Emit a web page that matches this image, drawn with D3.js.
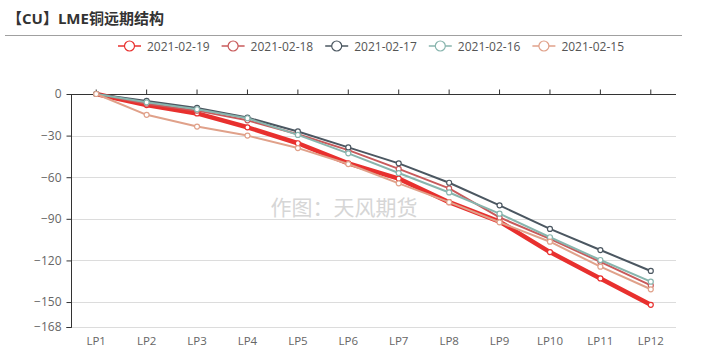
<!DOCTYPE html>
<html>
<head>
<meta charset="utf-8">
<script src="https://cdn.jsdelivr.net/npm/d3@7"></script>
<style>
  body { margin: 0; background: #fff; }
  svg text { font-family: "Open Sans", "Noto Sans CJK SC", sans-serif; }
</style>
</head>
<body>
<svg id="chart" width="702" height="361"></svg>
<script>
// categories (contract months)
var categories = ['LP1', 'LP2', 'LP3', 'LP4', 'LP5', 'LP6', 'LP7', 'LP8', 'LP9', 'LP10', 'LP11', 'LP12'];

// forward spreads vs LP1, one list per date
var s0219 = [0, -8, -14, -24, -35.5, -50, -61, -78, -92, -114, -133, -152];
var s0218 = [0, -7, -12, -19, -29, -40.5, -54, -68, -89, -104.5, -121, -138];
var s0217 = [0, -5, -10, -17, -27, -38.5, -50, -64, -80.3, -97.3, -112.5, -127.6];
var s0216 = [0, -6, -11, -17.5, -29.5, -42.8, -57, -71, -86.3, -103.3, -119.7, -135.3];
var s0215 = [0, -15, -23.5, -30, -39, -50.5, -64.4, -78, -92.5, -106.5, -124.5, -140.8];

var yTicks = [0, -30, -60, -90, -120, -150, -168];

(function () {
  'use strict';

  var series = [
    {name: '2021-02-19', values: s0219, color: '#e8302e', width: 4.5},
    {name: '2021-02-18', values: s0218, color: '#c85a5b', width: 2},
    {name: '2021-02-17', values: s0217, color: '#4b5761', width: 2},
    {name: '2021-02-16', values: s0216, color: '#88b5ae', width: 2},
    {name: '2021-02-15', values: s0215, color: '#e0a18a', width: 2}
  ];

  var svg = d3.select('#chart');
  var plotL = 71, plotR = 676, plotT = 94, plotB = 327;

  var x = d3.scaleBand().domain(categories).range([plotL, plotR]);
  var y = d3.scaleLinear().domain([0, -168]).range([plotT, plotB]);
  var cx = function (i) { return x(categories[i]) + x.bandwidth() / 2; };

  // title + separator
  svg.append('text')
    .attr('x', 7).attr('y', 24)
    .attr('font-size', 15).attr('font-weight', 'bold').attr('fill', '#333')
    .text('【CU】LME铜远期结构');

  svg.append('line')
    .attr('x1', 5).attr('x2', 682).attr('y1', 35.5).attr('y2', 35.5)
    .attr('stroke', '#a0a0a0');

  // legend
  series.forEach(function (s, i) {
    var gx = 118 + i * 103.6;
    var g = svg.append('g').attr('transform', 'translate(' + gx + ',46)');
    g.append('line').attr('x1', 0).attr('x2', 23).attr('stroke', s.color).attr('stroke-width', 1.5);
    g.append('circle').attr('cx', 11.5).attr('r', 5).attr('fill', '#fff')
      .attr('stroke', s.color).attr('stroke-width', 1.2);
    g.append('text').attr('x', 29).attr('y', 4.5)
      .attr('font-size', 12).attr('fill', '#555').text(s.name);
  });

  // grid
  svg.append('g').selectAll('line')
    .data(yTicks.filter(function (d) { return d !== 0; }))
    .join('line')
    .attr('x1', plotL).attr('x2', plotR)
    .attr('y1', function (d) { return Math.round(y(d)) + 0.5; })
    .attr('y2', function (d) { return Math.round(y(d)) + 0.5; })
    .attr('stroke', '#dcdcdc');

  // watermark
  svg.append('text')
    .attr('x', 344).attr('y', 215).attr('text-anchor', 'middle')
    .attr('font-size', 21).attr('fill', '#d6d6d6')
    .attr('font-family', '"Noto Sans CJK SC", sans-serif')
    .text('作图：天风期货');

  // y axis
  var yAxis = d3.axisLeft(y).tickValues(yTicks).tickSize(5).tickPadding(5);
  var gy = svg.append('g').attr('transform', 'translate(' + (plotL + 0.5) + ',0)').call(yAxis);
  gy.select('.domain').attr('stroke', '#333').attr('d', 'M-5,' + (plotB + 0.5) + 'H0V' + (plotT + 0.5));
  gy.selectAll('.tick line').attr('stroke', '#333');
  gy.selectAll('.tick text').attr('font-size', 12).attr('fill', '#666')
    .attr('font-family', '"Open Sans", sans-serif');

  // x axis line along zero
  var xAxis = d3.axisTop(x).tickSize(5).tickFormat('');
  var gx0 = svg.append('g').attr('transform', 'translate(0,' + (y(0) + 0.5) + ')').call(xAxis);
  gx0.select('.domain').attr('stroke', '#333').attr('d', 'M' + plotL + ',0H' + plotR);
  gx0.selectAll('.tick line').attr('stroke', '#333');

  // x labels at the bottom
  svg.append('g').selectAll('text')
    .data(categories)
    .join('text')
    .attr('x', function (d, i) { return cx(i); })
    .attr('y', 345)
    .attr('text-anchor', 'middle')
    .attr('font-size', 11.5).attr('fill', '#666')
    .text(function (d) { return d; });

  // lines
  var line = d3.line()
    .x(function (d, i) { return cx(i); })
    .y(function (d) { return y(d); });

  series.forEach(function (s) {
    var g = svg.append('g');
    g.append('path')
      .attr('d', line(s.values))
      .attr('fill', 'none')
      .attr('stroke', s.color)
      .attr('stroke-width', s.width)
      .attr('stroke-linejoin', 'round');
    g.selectAll('circle')
      .data(s.values)
      .join('circle')
      .attr('cx', function (d, i) { return cx(i); })
      .attr('cy', function (d) { return y(d); })
      .attr('r', 2.5)
      .attr('fill', '#fff')
      .attr('stroke', s.color)
      .attr('stroke-width', 1.2);
  });
}());
</script>
</body>
</html>
